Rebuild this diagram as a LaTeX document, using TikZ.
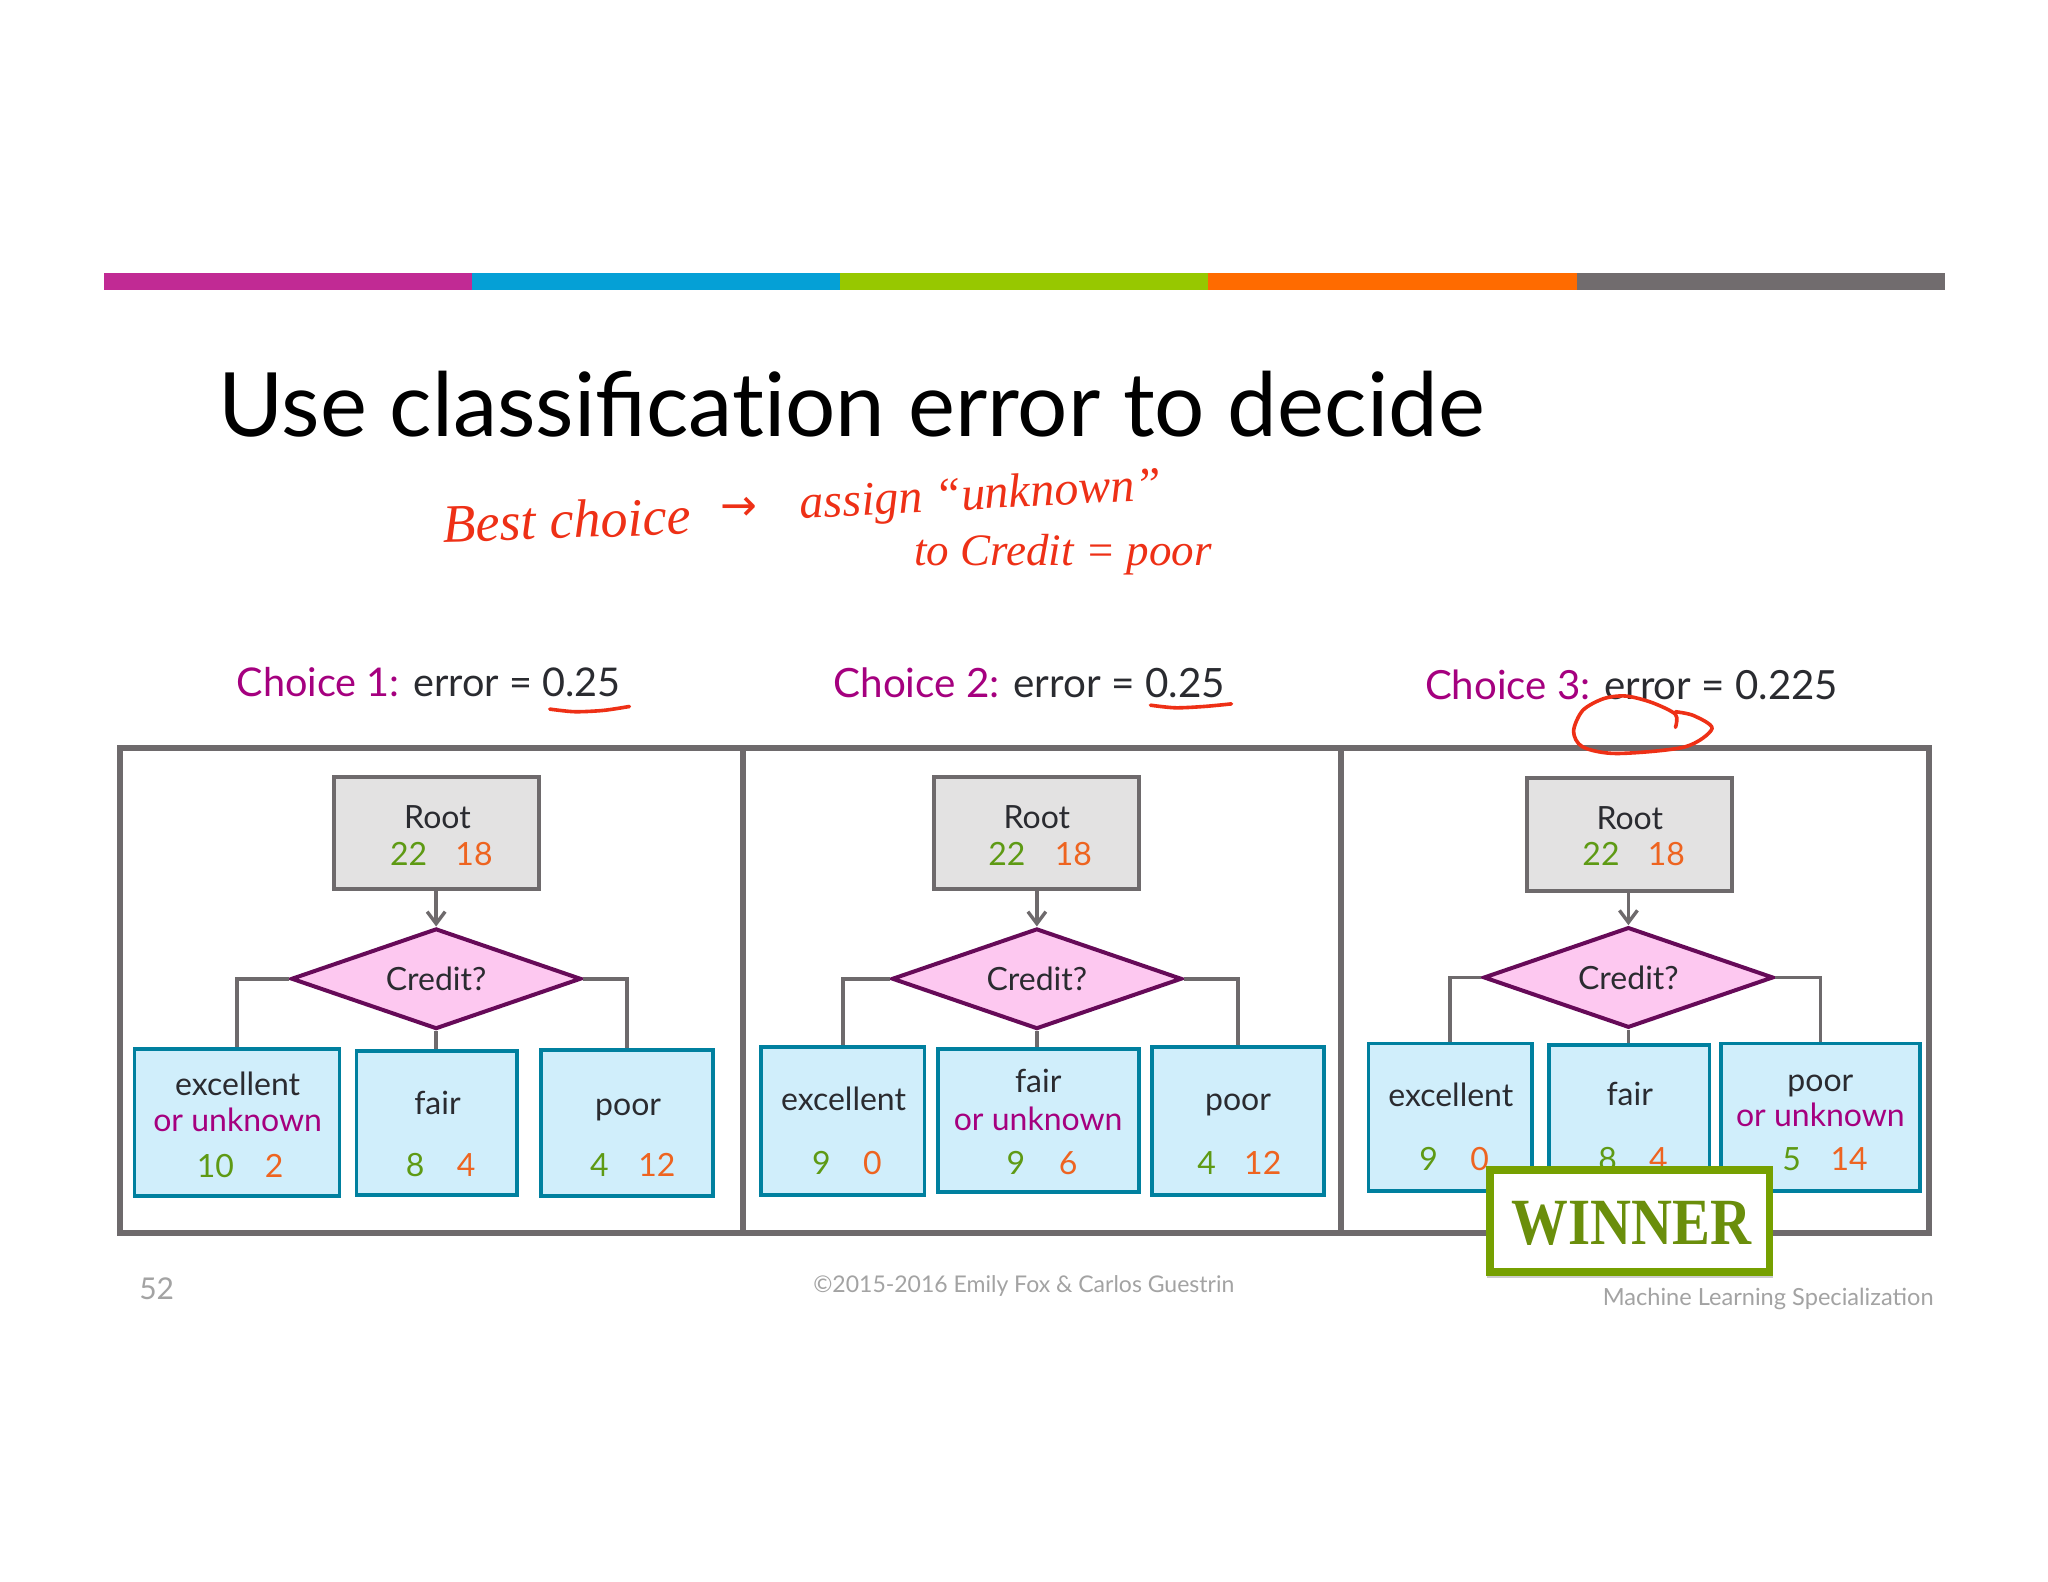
\documentclass[tikz,border=0pt]{standalone}
\usepackage{fontspec}
\setmainfont{Lato}
\newfontfamily\handfont{Liberation Serif}
\newfontfamily\arrowfont{DejaVu Sans}
\usetikzlibrary{shapes.geometric,arrows.meta,calc}
\definecolor{barA}{HTML}{C12A94}
\definecolor{barB}{HTML}{05A0D6}
\definecolor{barC}{HTML}{97C800}
\definecolor{barD}{HTML}{FF6B00}
\definecolor{barE}{HTML}{716C6E}
\definecolor{ink}{HTML}{2A2B30}
\definecolor{plum}{HTML}{A5007F}
\definecolor{yes}{HTML}{5E9A14}
\definecolor{no}{HTML}{EE6420}
\definecolor{redpen}{HTML}{EE3016}
\definecolor{frame}{HTML}{6E6A6C}
\definecolor{rootfill}{HTML}{E3E2E2}
\definecolor{leaffill}{HTML}{D0EEFB}
\definecolor{leafline}{HTML}{00809F}
\definecolor{difill}{HTML}{FDC8F0}
\definecolor{diline}{HTML}{660A58}
\definecolor{wingreen}{HTML}{76A000}
\definecolor{wintext}{HTML}{6A8E0B}
\definecolor{foot}{HTML}{A3A3A3}
\tikzset{
  rootbox/.style={draw=frame,fill=rootfill,line width=2pt,inner sep=0pt},
  leafbox/.style={draw=leafline,fill=leaffill,line width=1.9pt,inner sep=0pt},
  winbox/.style={draw=wingreen,fill=white,line width=3.8pt,inner sep=0pt},
  decision/.style={diamond,aspect=2.88,draw=diline,fill=difill,line width=2pt,inner sep=0pt,minimum width=222*0.653pt,minimum height=77*0.653pt,font=\fontsize{16}{16}\selectfont,text=ink},
  lbl/.style={inner sep=0pt,text height=.72em,text depth=.2em,yshift=-3pt,font=\fontsize{16}{16}\selectfont},
  wire/.style={draw=frame,line width=1.8pt},
  feed/.style={draw=frame,line width=1.8pt,-{Straight Barb[length=6pt,width=9pt,line width=1.7pt]}},
  head/.style={inner sep=0pt,anchor=base west,text=ink},
  hand/.style={inner sep=0pt,text=redpen},
  pen/.style={draw=redpen,line width=1.8pt,line cap=round,line join=round},
  seg/.style={inner sep=0pt,minimum height=13*0.653pt,anchor=west},
}
\newcommand{\boxat}[6]{%
  \pgfmathsetmacro\mycx{(#3+#5)/2}\pgfmathsetmacro\mycy{(#4+#6)/2}%
  \pgfmathsetlengthmacro\mybw{(#5-#3)*0.653pt}\pgfmathsetlengthmacro\mybh{(#6-#4)*0.653pt}%
  \node[#1,minimum width=\mybw,minimum height=\mybh] (#2) at (\mycx,\mycy) {};}
\newcommand{\lab}[5]{\node[lbl,text=#2] (#1) at (#3,#4) {#5};}
\newcommand{\seg}[3]{\node[seg,fill=#2,minimum width=282*0.653pt] (#1) at (#3,215.5) {};}
\begin{document}
\begin{tikzpicture}[x=0.653pt,y=-0.653pt]
\useasboundingbox (0,0) rectangle (1568.3,1211.4);
\fill[white] (0,0) rectangle (1568.3,1211.4);
% colour bar
\seg{sa}{barA}{79}\seg{sb}{barB}{361}\seg{sc}{barC}{643}\seg{sd}{barD}{925}\seg{se}{barE}{1207}
% title
\node[inner sep=0pt,anchor=base west,font=\fontsize{44.4}{44}\selectfont,text=black] (title) at (167,334) {Use classificat\kern0pt ion error to decide};
% handwriting
\node[hand,font=\handfont\itshape\fontsize{27}{27}\selectfont,rotate=2] (bc) at (434,398) {Best choice};
\node[hand,font=\arrowfont\fontsize{22}{22}\selectfont] (arr) at (566,390) {→};
\node[hand,font=\handfont\itshape\fontsize{24}{24}\selectfont,rotate=3] (as) at (751,381) {assign “unknown”};
\node[hand,font=\handfont\itshape\fontsize{22.5}{22}\selectfont] (cr) at (814,425) {to Credit = poor};
% headings
\node[head,font=\fontsize{19.8}{20}\selectfont] (h1) at (181,533) {\textcolor{plum}{Choice 1:} error = 0.25};
\node[head,font=\fontsize{20.2}{20}\selectfont] (h2) at (638,534) {\textcolor{plum}{Choice 2:} error = 0.25};
\node[head,font=\fontsize{20.1}{20}\selectfont] (h3) at (1091,536) {\textcolor{plum}{Choice 3:} error = 0.225};
% panels
\draw[frame,line width=3pt] (92,573) rectangle (1477,944);
\draw[frame,line width=3pt] (569,573) -- (569,944);
\draw[frame,line width=3pt] (1027,573) -- (1027,944);
% underlines and loop
\draw[pen] plot[smooth] coordinates {(421,543) (440,545) (462,544) (482,541)};
\draw[pen] plot[smooth] coordinates {(881,540) (900,542) (922,541) (943,539)};
\draw[pen] plot[smooth] coordinates {(1283,557) (1283,547) (1265,538) (1245,533) (1228,535) (1212,544) (1205,560) (1212,572) (1238,577) (1290,572) (1311,558) (1297,548) (1283,545)};
% panel 1
\boxat{rootbox}{ar}{256}{595}{413}{681}
\node[decision] (ad) at (334,749.5) {Credit?};
\boxat{leafbox}{a1}{103}{803}{260}{916}
\boxat{leafbox}{a2}{273}{805}{396}{915}
\boxat{leafbox}{a3}{414}{804}{546}{916}
\draw[feed] (ar.south-|ad.north) -- (ad.north);
\draw[wire] (ad.west) -| (a1.north);
\draw[wire] (ad.south) -- (ad.south|-a2.north);
\draw[wire] (ad.east) -| (a3.north);
\lab{art}{ink}{335}{626}{Root}\lab{ary}{yes}{313}{654}{22}\lab{arn}{no}{363}{654}{18}
\lab{a1t}{ink}{182}{830}{excellent}\lab{a1u}{plum}{182}{858}{or unknown}\lab{a1y}{yes}{165}{893}{10}\lab{a1n}{no}{210}{893}{2}
\lab{a2t}{ink}{335}{845}{fair}\lab{a2y}{yes}{318}{892}{8}\lab{a2n}{no}{357}{892}{4}
\lab{a3t}{ink}{481}{846}{poor}\lab{a3y}{yes}{459}{892}{4}\lab{a3n}{no}{503}{892}{12}
% panel 2
\boxat{rootbox}{br}{715}{595}{872}{681}
\node[decision] (bd) at (794,749.5) {Credit?};
\boxat{leafbox}{b1}{583}{802}{708}{915}
\boxat{leafbox}{b2}{718}{803}{872}{913}
\boxat{leafbox}{b3}{882}{802}{1014}{915}
\draw[feed] (br.south-|bd.north) -- (bd.north);
\draw[wire] (bd.west) -| (b1.north);
\draw[wire] (bd.south) -- (bd.south|-b2.north);
\draw[wire] (bd.east) -| (b3.north);
\lab{brt}{ink}{794}{626}{Root}\lab{bry}{yes}{771}{654}{22}\lab{brn}{no}{822}{654}{18}
\lab{b1t}{ink}{646}{842}{excellent}\lab{b1y}{yes}{629}{891}{9}\lab{b1n}{no}{668}{891}{0}
\lab{b2t}{ink}{795}{828}{fair}\lab{b2u}{plum}{795}{857}{or unknown}\lab{b2y}{yes}{778}{891}{9}\lab{b2n}{no}{818}{891}{6}
\lab{b3t}{ink}{948}{842}{poor}\lab{b3y}{yes}{924}{891}{4}\lab{b3n}{no}{967}{891}{12}
% panel 3
\boxat{rootbox}{cr}{1169}{596}{1326}{682}
\node[decision] (cd) at (1247,748.5) {Credit?};
\boxat{leafbox}{c1}{1048}{799}{1173}{912}
\boxat{leafbox}{c2}{1186}{800}{1309}{912}
\boxat{leafbox}{c3}{1318}{799}{1470}{912}
\draw[feed] (cr.south-|cd.north) -- (cd.north);
\draw[wire] (cd.west) -| (c1.north);
\draw[wire] (cd.south) -- (cd.south|-c2.north);
\draw[wire] (cd.east) -| (c3.north);
\lab{crt}{ink}{1248}{627}{Root}\lab{cry}{yes}{1226}{654}{22}\lab{crn}{no}{1276}{654}{18}
\lab{c1t}{ink}{1111}{839}{excellent}\lab{c1y}{yes}{1094}{888}{9}\lab{c1n}{no}{1133}{888}{0}
\lab{c2t}{ink}{1248}{838}{fair}\lab{c2y}{yes}{1231}{888}{8}\lab{c2n}{no}{1270}{888}{4}
\lab{c3t}{ink}{1394}{827}{poor}\lab{c3u}{plum}{1394}{854}{or unknown}\lab{c3y}{yes}{1372}{888}{5}\lab{c3n}{no}{1416}{888}{14}
% winner stamp
\fill[black!20] (1139,899) rectangle (1358,979);
\boxat{winbox}{win}{1141}{896}{1355}{974}
\node[inner sep=0pt,text=wintext,font=\handfont\bfseries\fontsize{33}{33}\selectfont,xscale=.86] (wint) at (1249.5,937) {WINNER};
% footer
\node[inner sep=0pt,text=foot,font=\fontsize{15}{15}\selectfont] (pg) at (120,987) {52};
\node[inner sep=0pt,text=foot,font=\fontsize{11.5}{11.5}\selectfont] (cp) at (784,985) {©2015-2016 Emily Fox \& Carlos Guestrin};
\node[inner sep=0pt,anchor=east,text=foot,font=\fontsize{11.8}{11.8}\selectfont] (mls) at (1481,995) {Machine Learning Specialization};
\end{tikzpicture}
\end{document}
